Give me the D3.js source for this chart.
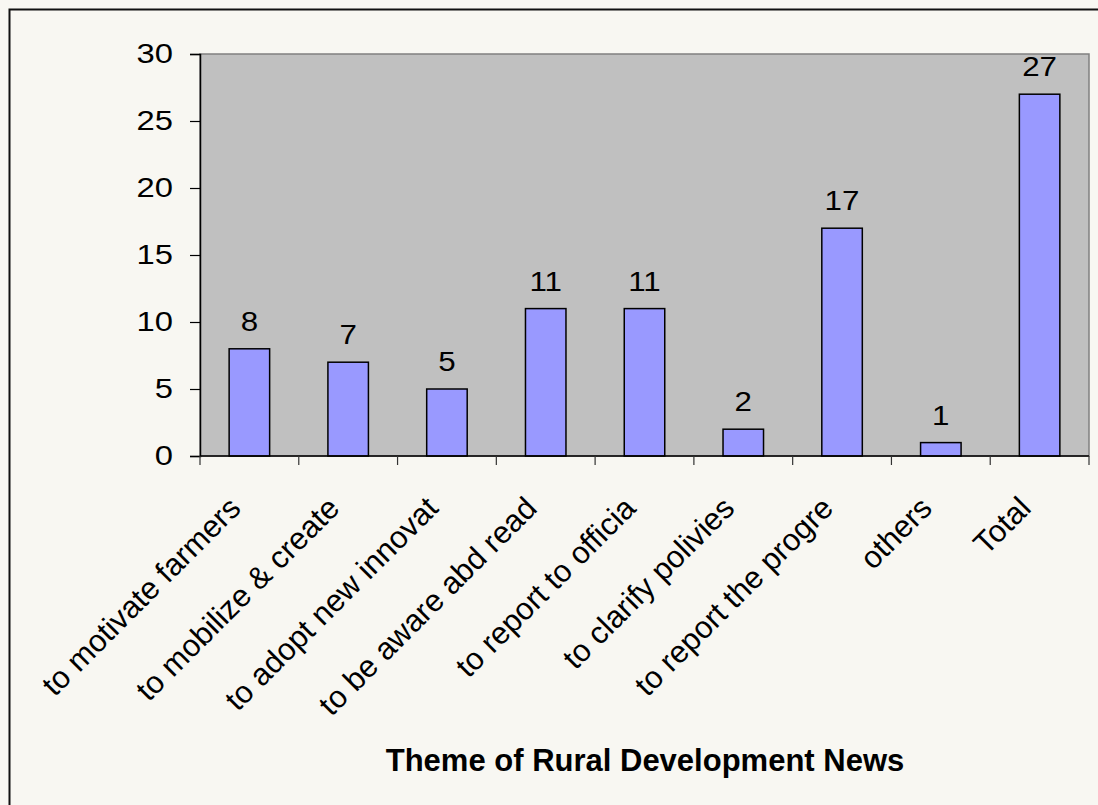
<!DOCTYPE html>
<html>
<head>
<meta charset="utf-8">
<script src="https://cdn.jsdelivr.net/npm/d3@7"></script>
<style>
html,body{margin:0;padding:0;background:#f8f7f2;}
svg{display:block;}
text{font-family:"Liberation Sans",Arial,sans-serif;fill:#000;}
</style>
</head>
<body>
<script>
const categories = ["to motivate farmers","to mobilize & create","to adopt new innovat","to be aware abd read","to report to officia","to clarify polivies","to report the progre","others","Total"];
const values = [8,7,5,11,11,2,17,1,27];
const yTicks = [0,5,10,15,20,25,30];
const xTitle = "Theme of Rural Development News";

(function(){
const W = 1098, H = 805;
const svg = d3.select("body").append("svg").attr("width", W).attr("height", H);

svg.append("rect").attr("x",0).attr("y",0).attr("width",W).attr("height",H).attr("fill","#f8f7f2");
svg.append("path").attr("d","M9.5,"+H+" L9.5,9.5 L"+W+",9.5").attr("fill","none").attr("stroke","#111").attr("stroke-width",2);

const pl = 200, pr = 1089, pt = 54, pb = 456;
const x = d3.scaleBand().domain(categories).range([pl,pr]).padding(0);
const y = d3.scaleLinear().domain([0,30]).range([pb,pt]);

svg.append("rect").attr("x",pl).attr("y",pt).attr("width",pr-pl).attr("height",pb-pt)
  .attr("fill","#c0c0c0").attr("stroke","#808080").attr("stroke-width",1.5);

const bw = x.bandwidth()*0.41;
svg.selectAll("rect.bar").data(values).enter().append("rect").attr("class","bar")
  .attr("x",(d,i)=>x(categories[i])+x.bandwidth()/2-bw/2)
  .attr("y",d=>y(d))
  .attr("width",bw)
  .attr("height",d=>y(0)-y(d))
  .attr("fill","#9999ff").attr("stroke","#000").attr("stroke-width",1.5);

svg.selectAll("text.val").data(values).enter().append("text").attr("class","val")
  .attr("transform",(d,i)=>"translate("+(x(categories[i])+x.bandwidth()/2)+","+(y(d)-18)+") scale(1.12,1)")
  .attr("text-anchor","middle").attr("font-size",28).text(d=>d);

const yAxis = d3.axisLeft(y).tickValues(yTicks).tickSize(10).tickPadding(16);
const gy = svg.append("g").attr("transform","translate("+pl+",0)").call(yAxis);
gy.select(".domain").attr("stroke","#000").attr("stroke-width",1.5);
gy.selectAll(".tick line").attr("stroke","#000").attr("stroke-width",1.2);
gy.selectAll(".tick text").attr("font-size",28).attr("font-family","Liberation Sans, Arial, sans-serif").attr("fill","#000")
  .attr("x",0).attr("transform","translate(-27,0) scale(1.17,1)");

const tickPositions = d3.range(categories.length+1).map(i=>pl+i*x.step());
const gx = svg.append("g");
gx.append("line").attr("x1",pl).attr("x2",pr).attr("y1",pb).attr("y2",pb).attr("stroke","#000").attr("stroke-width",1.5);
gx.selectAll("line.tk").data(tickPositions).enter().append("line").attr("class","tk")
  .attr("x1",d=>d).attr("x2",d=>d).attr("y1",pb).attr("y2",pb+9).attr("stroke","#333").attr("stroke-width",1.2);

svg.selectAll("text.cat").data(categories).enter().append("text").attr("class","cat")
  .attr("transform",d=>"translate("+(x(d)+x.bandwidth()/2-7)+","+(pb+54)+") rotate(-45)")
  .attr("text-anchor","end").attr("font-size",31).text(d=>d);

svg.append("text").attr("x",645).attr("y",771).attr("text-anchor","middle")
  .attr("font-size",31).attr("font-weight","bold").text(xTitle);
})();
</script>
</body>
</html>
